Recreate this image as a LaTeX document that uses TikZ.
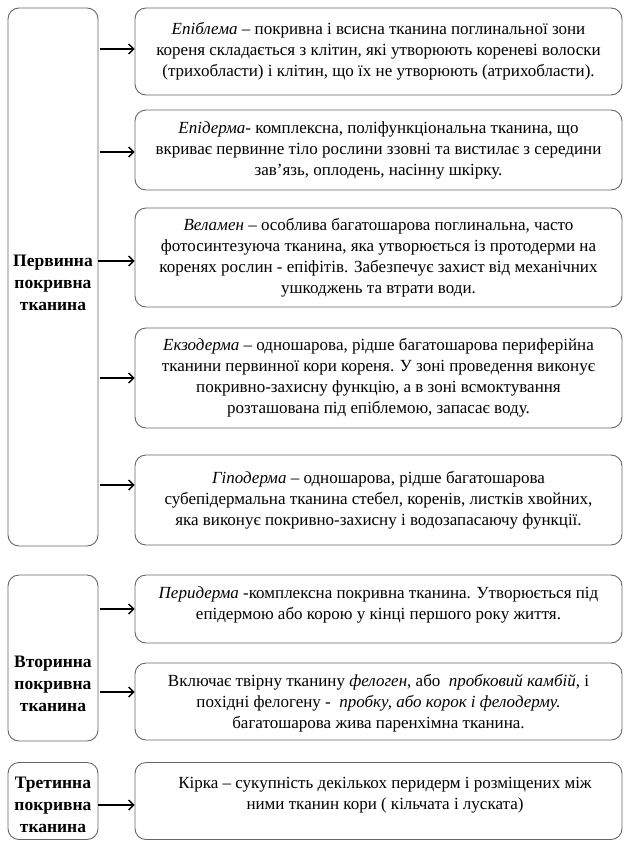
\documentclass[tikz,border=0pt]{standalone}
\usepackage{fontspec}
\setmainfont{Liberation Serif}
\usetikzlibrary{arrows.meta}
\begin{document}
\begin{tikzpicture}[x=1pt,y=-1pt,
  box/.style={draw=black!60, line width=0.9pt, rounded corners=11pt, inner sep=0pt},
  txt/.style={align=center, font=\fontsize{17}{21}\selectfont, inner sep=0pt},
  lab/.style={align=center, font=\fontsize{17.5}{22}\selectfont\bfseries, inner sep=0pt},
  arr/.style={-{Straight Barb[length=5pt,width=10pt]}, line width=1.4pt}]
\useasboundingbox (0,0) rectangle (632,846);
% left boxes
\node[box, minimum width=90pt, minimum height=538pt] (L1) at (53,277) {};
\node[box, minimum width=90pt, minimum height=166pt] (L2) at (53,658) {};
\node[box, minimum width=90pt, minimum height=77pt] (L3) at (53,801) {};
% right boxes
\node[box, minimum width=487pt, minimum height=87pt] (B1) at (378.5,51.5) {};
\node[box, minimum width=487pt, minimum height=80pt] (B2) at (378.5,150) {};
\node[box, minimum width=487pt, minimum height=99pt] (B3) at (378.5,257.5) {};
\node[box, minimum width=487pt, minimum height=100pt] (B4) at (378.5,378) {};
\node[box, minimum width=487pt, minimum height=90pt] (B5) at (378.5,500) {};
\node[box, minimum width=487pt, minimum height=68pt] (B6) at (378.5,609) {};
\node[box, minimum width=487pt, minimum height=77pt] (B7) at (378.5,701.5) {};
\node[box, minimum width=487pt, minimum height=77pt] (B8) at (378.5,801) {};
% texts
\node[txt] (T1) at (378.5,51.5) {\textit{Епіблема} – покривна і всисна тканина поглинальної зони\\кореня складається з клітин, які утворюють кореневі волоски\\(трихобласти) і клітин, що їх не утворюють (атрихобласти).};
\node[txt] (T2) at (378.5,150) {\textit{Епідерма}- комплексна, поліфункціональна тканина, що\\вкриває первинне тіло рослини ззовні та вистилає з середини\\зав’язь, оплодень, насінну шкірку.};
\node[txt] (T3) at (378.5,257.5) {\textit{Веламен} – особлива багатошарова поглинальна, часто\\фотосинтезуюча тканина, яка утворюється із протодерми на\\коренях рослин - епіфітів. Забезпечує захист від механічних\\ушкоджень та втрати води.};
\node[txt] (T4) at (378.5,378) {\textit{Екзодерма} – одношарова, рідше багатошарова периферійна\\тканини первинної кори кореня. У зоні проведення виконує\\покривно-захисну функцію, а в зоні всмоктування\\розташована під епіблемою, запасає воду.};
\node[txt] (T5) at (378.5,500) {\textit{Гіподерма} – одношарова, рідше багатошарова\\субепідермальна тканина стебел, коренів, листків хвойних,\\яка виконує покривно-захисну і водозапасаючу функції.};
\node[txt] (T6) at (378.5,605) {\textit{Перидерма} -комплексна покривна тканина. Утворюється під\\епідермою або корою у кінці першого року життя.};
\node[txt] (T7) at (378.5,703) {Включає твірну тканину \textit{фелоген}, або \ \textit{пробковий камбій}, і\\похідні фелогену - \ \textit{пробку, або корок і фелодерму.}\\багатошарова жива паренхімна тканина.};
\node[txt] (T8) at (385,795) {Кірка – сукупність декількох перидерм і розміщених між\\ними тканин кори ( кільчата і луската)};
% labels
\node[lab] (P1) at (53,283) {Первинна\\покривна\\тканина};
\node[lab] (P2) at (53,684) {Вторинна\\покривна\\тканина};
\node[lab] (P3) at (53,805) {Третинна\\покривна\\тканина};
% arrow starts
\coordinate (a1) at (100,49);
\coordinate (a2) at (100,152);
\coordinate (a3) at (98,261);
\coordinate (a4) at (100,378);
\coordinate (a5) at (100,485);
\coordinate (a6) at (100,609);
\coordinate (a7) at (100,692);
\coordinate (a8) at (L3.east |- P3);
\draw[arr] (a1) -- (a1 -| B1.west);
\draw[arr] (a2) -- (a2 -| B2.west);
\draw[arr] (a3) -- (a3 -| B3.west);
\draw[arr] (a4) -- (a4 -| B4.west);
\draw[arr] (a5) -- (a5 -| B5.west);
\draw[arr] (a6) -- (a6 -| B6.west);
\draw[arr] (a7) -- (a7 -| B7.west);
\draw[arr] (a8) -- (a8 -| B8.west);
\end{tikzpicture}
\end{document}
